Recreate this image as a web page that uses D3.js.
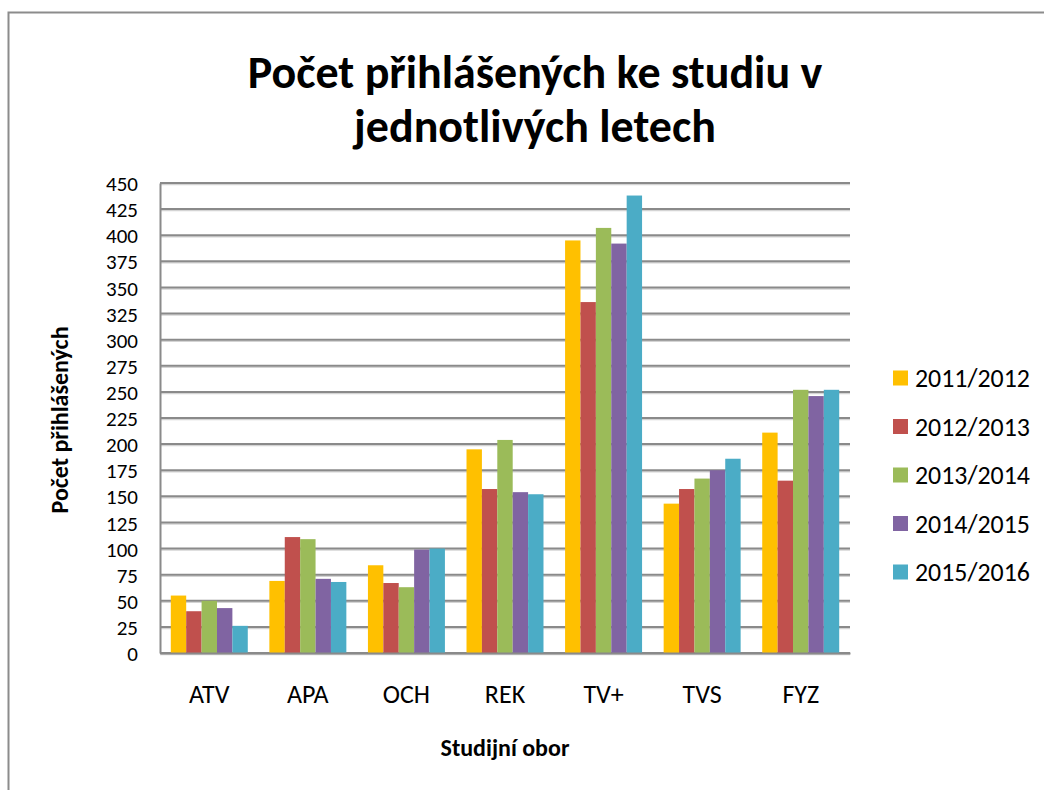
<!DOCTYPE html>
<html>
<head>
<meta charset="utf-8">
<script src="https://cdn.jsdelivr.net/npm/d3@7"></script>
<style>
  html, body { margin: 0; padding: 0; background: #fff; }
  svg { display: block; }
  text { font-family: Carlito, Calibri, Lato, "Open Sans", sans-serif; fill: #000; }
</style>
</head>
<body>
<svg id="chart" width="1044" height="790"></svg>
<script>
const categories = ["ATV", "APA", "OCH", "REK", "TV+", "TVS", "FYZ"];
const seriesNames = ["2011/2012", "2012/2013", "2013/2014", "2014/2015", "2015/2016"];
const s2011 = [55, 69, 84, 195, 395, 143, 211];
const s2012 = [40, 111, 67, 157, 336, 157, 165];
const s2013 = [50, 109, 63, 204, 407, 167, 252];
const s2014 = [43, 71, 99, 154, 392, 175, 246];
const s2015 = [26, 68, 100, 152, 438, 186, 252];
const yTicks = [0, 25, 50, 75, 100, 125, 150, 175, 200, 225, 250, 275, 300, 325, 350, 375, 400, 425, 450];
const colors = ["#FFC000", "#C0504D", "#9BBB59", "#8064A2", "#4BACC6"];
const titleLines = ["Počet přihlášených ke studiu v", "jednotlivých letech"];
const yTitle = "Počet přihlášených";
const xTitle = "Studijní obor";

const seriesValues = [s2011, s2012, s2013, s2014, s2015];

const svg = d3.select("#chart");

// font size that makes a sample string reach a target width
function fitSize(sample, targetWidth, bold, maxSize) {
  const t = svg.append("text").style("font-size", "20px")
    .style("font-weight", bold ? "bold" : "normal").text(sample);
  const w = t.node().getComputedTextLength();
  t.remove();
  return Math.min(maxSize, 20 * targetWidth / w);
}

// outer chart border
svg.append("rect").attr("x", 8.5).attr("y", 12.5).attr("width", 1100).attr("height", 900)
  .attr("fill", "#fff").attr("stroke", "#8c8c8c").attr("stroke-width", 2);

const plot = { left: 160, right: 850, top: 183, bottom: 653 };

const y = d3.scaleLinear().domain([0, 450]).range([plot.bottom, plot.top]);
const x0 = d3.scaleBand().domain(categories).range([plot.left, plot.right])
  .paddingInner(0.219).paddingOuter(0.1095);
const x1 = d3.scaleBand().domain(seriesNames).range([0, x0.bandwidth()]);

// gridlines
const grid = svg.append("g");
yTicks.forEach(t => {
  grid.append("line").attr("x1", plot.left).attr("x2", plot.right)
    .attr("y1", y(t) + 1.5).attr("y2", y(t) + 1.5)
    .attr("stroke", "#d4d4d4").attr("stroke-width", 1.5);
  grid.append("line").attr("x1", plot.left).attr("x2", plot.right)
    .attr("y1", y(t)).attr("y2", y(t))
    .attr("stroke", "#8a8a8a").attr("stroke-width", 2);
});

// bars
const groups = svg.append("g").selectAll("g").data(categories).join("g")
  .attr("transform", d => `translate(${x0(d)},0)`);
groups.selectAll("rect")
  .data((c, ci) => seriesNames.map((s, si) => ({ s, si, v: seriesValues[si][ci] })))
  .join("rect")
  .attr("x", d => x1(d.s))
  .attr("width", x1.bandwidth())
  .attr("y", d => y(d.v))
  .attr("height", d => y(0) - y(d.v))
  .attr("fill", d => colors[d.si]);

const tickFs = fitSize("450", 43, false, 21);
const xLabFs = fitSize("ATV", 44, false, 26);
const legFs = fitSize("2011/2012", 115, false, 26);
const xTitleFs = fitSize(xTitle, 145, true, 24);
const yTitleFs = fitSize(yTitle, 210, true, 24);

// y axis
const yAxis = d3.axisLeft(y).tickValues(yTicks).tickSize(0).tickPadding(22);
const gy = svg.append("g").attr("transform", `translate(${plot.left},0)`).call(yAxis);
gy.select(".domain").attr("stroke", "#8a8a8a").attr("stroke-width", 2);
gy.selectAll("text").style("font-size", tickFs + "px").attr("font-family", null).attr("dy", "0.36em");

// x axis
const xAxis = d3.axisBottom(x0).tickSize(0).tickPadding(32);
const gx = svg.append("g").attr("transform", `translate(0,${plot.bottom})`).call(xAxis);
gx.select(".domain").attr("stroke", "#8a8a8a").attr("stroke-width", 2);
gx.selectAll("text").style("font-size", xLabFs + "px").attr("font-family", null);

// titles
const tg = svg.append("g");
const titleFs = fitSize(titleLines[0], 597, true, 46);
tg.append("text").attr("x", 535).attr("y", 88).attr("text-anchor", "middle")
  .style("font-size", titleFs + "px").style("font-weight", "bold").text(titleLines[0]);
tg.append("text").attr("x", 535).attr("y", 142).attr("text-anchor", "middle")
  .style("font-size", titleFs + "px").style("font-weight", "bold").text(titleLines[1]);

svg.append("text").attr("transform", `translate(68,420) rotate(-90)`).attr("text-anchor", "middle")
  .style("font-size", yTitleFs + "px").style("font-weight", "bold").text(yTitle);

svg.append("text").attr("x", 505).attr("y", 756).attr("text-anchor", "middle")
  .style("font-size", xTitleFs + "px").style("font-weight", "bold").text(xTitle);

// legend
const lg = svg.append("g");
seriesNames.forEach((s, i) => {
  const cy = 378 + i * 48.5;
  lg.append("rect").attr("x", 893).attr("y", cy - 7.5).attr("width", 15).attr("height", 15).attr("fill", colors[i]);
  lg.append("text").attr("x", 915).attr("y", cy).attr("dy", "0.36em").style("font-size", legFs + "px").text(s);
});
</script>
</body>
</html>
